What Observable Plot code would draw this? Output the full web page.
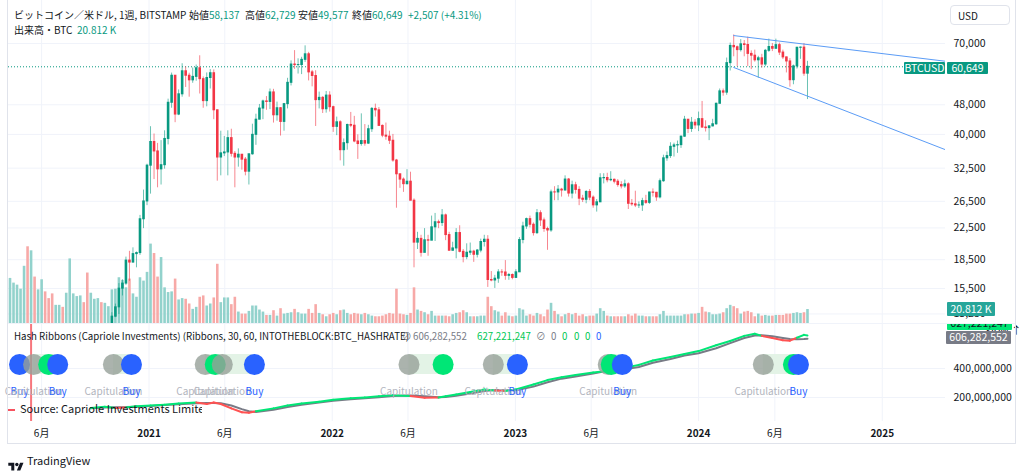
<!DOCTYPE html>
<html lang="ja"><head><meta charset="utf-8"><title>BTCUSD weekly</title>
<script src="https://cdn.jsdelivr.net/npm/d3@7"></script>
<script src="https://cdn.jsdelivr.net/npm/@observablehq/plot@0.6"></script>
<style>
html,body{margin:0;padding:0;background:#fff;}
#wrap{position:relative;width:1024px;height:473px;overflow:hidden;background:#fff;font-family:"Noto Sans CJK JP","Noto Sans",sans-serif;color:#131722;}
.layer{position:absolute;left:0;}
.layer svg{display:block;}
.t{position:absolute;white-space:nowrap;font-size:10px;line-height:12px;transform:translateY(-50%);}
.box{position:absolute;font-size:10.5px;line-height:1;display:flex;align-items:center;justify-content:center;border-radius:1px;white-space:nowrap;}
.ln{position:absolute;background:#e0e3eb;}
</style></head>
<body><div id="wrap"></div>
<script>
// ---------- DATA ----------
const weekStart = "2020-03-30";           // first weekly bar (Monday)
const firstOpen = 5880;
const closes = [
6780,6900,7120,7700,8900,8730,9380,8720,9450,9670,
9340,9300,9010,9070,9240,9160,9700,11060,11680,11910,
11950,11700,10250,10330,11090,11100,10700,11370,11500,13030,
13800,15480,15970,18400,18180,19150,19270,23730,26480,33000,
38180,36020,32260,33100,38900,48600,57400,45200,51200,59000,
57400,55800,57000,60100,56200,49100,56600,58300,46400,34700,
35600,35800,39100,35500,34700,35300,34250,31800,35400,39900,
43800,46900,49000,48850,51800,45000,47000,43200,48200,54950,
61500,61300,61300,63300,65500,58600,57300,49400,50100,46700,
50800,47300,41900,43100,36300,37900,42400,42200,38300,37700,
38400,37800,41300,46800,46400,42150,39700,39450,38470,34060,
31300,30290,29450,29900,26600,20550,21030,19300,20850,20800,
22580,23300,23180,24300,21530,19550,19830,21800,19420,18800,
19310,19440,19070,19570,20630,20920,16330,16280,16460,17110,
17100,16750,16840,16540,17120,20880,22700,23750,22940,21790,
24630,23560,22350,22150,28000,27990,28470,28330,30300,27800,
29250,28430,26930,26750,28070,27110,25850,26340,30540,30590,
30170,30250,29900,29290,29050,29420,26100,26010,25830,25840,
26530,26250,27980,27930,27150,29990,34530,35010,37060,37390,
37450,39450,43790,41370,42990,42280,43950,41730,41580,42030,
42580,48300,52140,51730,62030,68960,68390,67210,69650,69360,
65660,64940,63120,63900,61500,66920,68520,67760,69300,66200,
64260,62680,55850,60800,68180,68250,58137,60649];
const highs = [
7200,7470,7290,7780,9470,10070,9950,9850,9600,10400,
9990,9600,9800,9300,9480,9340,9730,12100,12000,12100,
12480,12050,12090,10600,11100,11180,11100,11500,11720,13350,
14080,15970,16350,18800,19480,19900,19400,24300,28400,33300,
41950,40100,37850,38500,40900,49700,58350,57500,52600,61800,
60600,58300,60200,61300,64900,57000,58400,59600,59500,46500,
40800,39500,40900,41300,36000,36600,35100,34700,35400,42600,
45300,48100,49400,50500,52900,52800,48800,47200,48400,56500,
62900,67000,63700,64300,69000,66300,59300,59200,51900,50500,
52100,52000,47600,44500,43500,38900,42600,45800,44700,39900,
45400,42500,42300,47200,48200,47200,42400,42900,40800,40000,
34300,31300,30600,32200,31700,26900,21900,21500,22400,21500,
24200,24600,23600,25200,24500,21900,20600,22400,22800,19700,
20400,20500,19600,19700,21000,21500,21450,17200,16800,17400,
17400,18400,17000,16950,17400,21200,23300,23900,24200,23200,
25200,25000,23900,22600,28400,29000,29200,28700,31000,30500,
30000,29800,29000,27500,28300,28500,27400,26800,31400,31400,
31500,31800,30400,30300,29900,30200,29700,26800,28200,26400,
27000,27500,28000,28600,28000,30400,35200,35900,38000,37900,
38400,39600,44700,43400,44400,43800,45900,49000,43500,42200,
43900,48500,52900,52900,64000,70200,73800,68900,71700,71300,
72800,66900,67200,64700,65500,67500,71900,70000,71900,70200,
67200,64400,63800,61300,68400,68500,70000,62729];
const lows = [
5860,6770,6470,6800,7630,8100,8200,8700,8620,9250,
9100,8950,8850,8900,9050,9000,9130,9700,10950,11150,
11350,11100,9900,9880,10240,10140,10400,10520,11200,11400,
12950,13200,14800,15800,16200,18100,17600,19000,22400,25800,
27700,30300,28800,29300,32300,37500,47000,43000,44900,50300,
53400,50300,54800,55500,51300,47000,47400,52900,43800,30000,
31000,34900,31000,34800,28800,32700,32100,31000,29300,35200,
37400,43800,43800,46400,46600,42900,43400,39600,40800,46800,
53900,59700,58000,57800,62300,55600,53600,42000,46800,45500,
45600,45900,40500,39700,34000,32900,36300,41700,38000,34300,
37200,37200,37600,40500,44500,42100,39200,38600,37600,33700,
25400,28700,28000,29300,26600,17600,19700,18800,19300,18900,
20800,20700,22400,22700,20800,19500,19500,18600,19300,18150,
18500,19000,18200,18700,19300,20000,15600,16150,15500,16000,
16700,16300,16300,16350,16500,17100,20400,22300,22500,21400,
21600,22700,21900,19600,21900,26600,26600,27200,28200,27200,
26900,27700,25800,26300,26100,26600,25400,24800,26300,29500,
29700,29900,29500,28900,28600,28700,25200,25700,25500,25350,
24900,26000,26000,27200,26500,26900,29800,33900,34500,34800,
35600,36700,39300,40200,40500,41300,40700,41500,40600,38500,
41900,42300,48300,50600,50900,59100,64500,60700,66400,64500,
60700,59600,62400,56500,60200,60700,66300,66600,67600,65000,
63400,58400,53500,54300,59800,63500,57200,49577];
const volumesK = [
67,60,57,51,85,114,108,69,50,65,
47,37,44,27,27,24,45,96,44,40,
41,31,75,45,36,37,31,30,25,50,
51,68,64,53,66,44,39,68,63,76,
118,104,69,98,53,46,47,66,35,37,
36,29,21,24,39,41,26,29,38,88,
31,38,38,28,39,17,14,14,18,26,
26,20,17,12,12,19,11,22,14,15,
16,21,16,14,14,21,15,28,15,13,
10,13,15,13,19,20,15,13,15,14,
13,15,13,11,10,10,11,13,15,14,
51,14,13,12,15,53,20,18,16,13,
18,11,11,11,11,10,13,15,16,19,
16,10,10,10,11,11,39,25,19,17,
11,16,11,10,11,22,20,11,13,11,
15,13,10,20,30,18,13,10,13,15,
13,15,11,13,10,11,11,14,22,18,
11,10,10,10,10,10,13,11,14,11,
11,10,10,10,10,13,18,11,11,11,
11,11,13,13,14,14,15,24,17,16,
13,13,14,16,22,27,25,22,14,17,
18,16,10,14,11,12,11,11,12,12,
12,14,14,15,16,15,16,20.812];
const priceTicks = [70000, 48000, 40000, 32500, 26500, 22500, 18500, 15500, 13250];
const lastPrice = 60649;
const trendUpperDates = ["2024-03-11", "2025-05-07"];
const trendUpperPrices = [73500, 62750];
const trendLowerDates = ["2024-03-11", "2025-05-07"];
const trendLowerPrices = [60400, 36400];
// Hash Ribbons (TH/s, millions)
const hashDates = ["2020-09-07","2020-10-05","2020-10-26","2020-11-16","2020-12-07",
"2021-01-04","2021-02-01","2021-03-01","2021-04-05","2021-04-26","2021-05-10","2021-05-24","2021-06-14","2021-07-05","2021-07-19","2021-08-02","2021-09-06","2021-10-04","2021-11-01","2021-12-06",
"2022-01-03","2022-02-07","2022-03-07","2022-04-04","2022-05-02","2022-06-06","2022-07-04","2022-08-01","2022-08-15","2022-09-05","2022-10-03","2022-10-31","2022-11-21","2022-12-12",
"2023-01-02","2023-02-06","2023-03-06","2023-04-03","2023-05-01","2023-06-05","2023-07-03","2023-07-17","2023-08-07","2023-09-04","2023-10-02","2023-11-06","2023-12-04",
"2024-01-01","2024-02-05","2024-03-04","2024-04-01","2024-04-22","2024-05-06","2024-05-27","2024-06-17","2024-07-01","2024-07-15","2024-07-29","2024-08-05"];
const hashFastM = [128,136,128,131,140,
145,150,158,165,155,165,155,125,98,95,105,125,145,158,170,
185,195,200,208,215,210,198,200,208,220,238,255,248,245,
255,290,320,340,355,372,383,392,405,425,455,480,500,
520,560,590,625,640,625,610,595,592,612,632,627];
const hashSlowM = [125,131,133,134,137,
142,148,153,160,162,162,160,145,120,105,100,115,135,150,165,
178,188,195,202,210,214,208,202,204,212,228,245,252,250,
250,275,305,330,345,365,385,386,395,410,440,465,490,
505,540,575,610,628,630,622,610,603,602,604,606];
const hashTicks = [200000000, 400000000];
const halvingDates = ["2020-05-11"];
const signalDates = ["2020-04-18","2020-05-16","2020-06-15","2020-07-03","2020-10-22","2020-11-27","2021-04-23","2021-05-13","2021-05-27","2021-07-30","2022-06-03","2022-08-10","2022-11-18","2023-01-05","2023-07-05","2023-07-11","2023-08-02","2024-05-09","2024-07-08","2024-07-18"];
const signalKinds = ["buy","cap","green","buy","cap","buy","cap","green","cap","buy","cap","green","cap","buy","cap","green","buy","cap","green","buy"];
const bandStarts = ["2020-05-16","2020-10-22","2021-04-23","2022-06-03","2022-11-18","2023-07-05","2024-05-09"];
const bandEnds   = ["2020-07-03","2020-11-27","2021-07-30","2022-08-10","2023-01-05","2023-08-02","2024-07-18"];
const juneTicks = ["2020-06-01","2021-06-01","2022-06-01","2023-06-01","2024-06-01"];
const yearTicks = ["2021-01-01","2022-01-01","2023-01-01","2024-01-01","2025-01-01"];
const xDomain = ["2020-03-27", "2025-05-07"];
const legendOHLC = ["58,137", "62,729", "49,577", "60,649"];
const legendChange = "+2,507 (+4.31%)";
const volumeLegend = "20.812 K";
const hashLegendValues = ["606,282,552", "627,221,247"];

// ---------- BUILD ----------
const wrap = document.getElementById("wrap");
const FONT = '"Noto Sans CJK JP","Noto Sans",sans-serif';
const W = 1024, ML = 8, MR = 79;
const D = s => new Date(s + "T00:00:00Z");
const DAY = 864e5;
const t0 = D(weekStart);
const bars = closes.map((c, i) => {
  const o = i === 0 ? firstOpen : closes[i - 1];
  return {date: new Date(+t0 + i * 7 * DAY), open: o, close: c, high: highs[i], low: lows[i], vol: volumesK[i], up: c >= o};
});
const UP = "#089981", DOWN = "#f23645";
const Xs = {type: "utc", domain: xDomain.map(D), axis: null};
const monthTicks = [...juneTicks, ...yearTicks].map(D);
const base = (h, extra = {}) => ({
  width: W, height: h, marginLeft: ML, marginRight: MR, marginTop: 0, marginBottom: 0,
  x: Xs, color: {type: "identity"},
  style: {background: "transparent", fontFamily: FONT, color: "#131722", overflow: "hidden"},
  ...extra
});
function place(svg, top) {
  const d = document.createElement("div");
  d.className = "layer"; d.style.top = top + "px";
  d.appendChild(svg); wrap.appendChild(d);
}
const yPrice = {type: "log", domain: [12493, 91207], axis: null};

// grid layer
place(Plot.plot(base(323, {y: yPrice, marks: [
  Plot.ruleX(monthTicks, {stroke: "#f0f3fa"}),
  Plot.ruleY(priceTicks, {stroke: "#f0f3fa"})
]})), 0);

// volume layer
place(Plot.plot(base(323, {y: {domain: [0, 480], axis: null}, marks: [
  Plot.ruleX(bars, {x: "date", y1: 0, y2: "vol", stroke: d => d.up ? "#92d2cc" : "#f7a9a7", strokeWidth: 2.6})
]})), 0);

// price layer
const trendU = trendUpperDates.map((d, i) => ({date: D(d), price: trendUpperPrices[i]}));
const trendL = trendLowerDates.map((d, i) => ({date: D(d), price: trendLowerPrices[i]}));
place(Plot.plot(base(323, {y: yPrice, marks: [
  Plot.ruleY([lastPrice], {stroke: "#089981", strokeDasharray: "1 2", strokeWidth: 1}),
  Plot.ruleX(bars, {x: "date", y1: "low", y2: "high", stroke: d => d.up ? UP : DOWN, strokeOpacity: 0.6, strokeWidth: 1, clip: true}),
  Plot.ruleX(bars, {x: "date", y1: d => Math.max(d.open, d.close), y2: d => Math.min(d.open, d.close),
    stroke: d => d.up ? UP : DOWN, strokeWidth: 2.6, insetTop: -0.5, insetBottom: -0.5, clip: true}),
  Plot.line(trendU, {x: "date", y: "price", stroke: "#5b9cf6", strokeWidth: 1, clip: true}),
  Plot.line(trendL, {x: "date", y: "price", stroke: "#5b9cf6", strokeWidth: 1, clip: true}),
  Plot.axisY(priceTicks, {anchor: "right", tickSize: 0, tickPadding: 8, tickFormat: d3.format(","), fontSize: 10.5})
]})), 0);

// hash ribbons lines
const hash = hashDates.map((d, i) => ({date: D(d), fast: hashFastM[i] * 1e6, slow: hashSlowM[i] * 1e6}));
const segs = hash.slice(1).map((b, i) => {
  const a = hash[i];
  return {a, b, red: (a.fast + b.fast) < (a.slow + b.slow)};
});
place(Plot.plot(base(98, {y: {domain: [34.48e6, 710.34e6], axis: null}, marks: [
  Plot.ruleX(monthTicks, {stroke: "#f0f3fa"}),
  Plot.ruleY(hashTicks, {stroke: "#f0f3fa"}),
  Plot.axisY(hashTicks, {anchor: "right", tickSize: 0, tickPadding: 8, tickFormat: d3.format(","), fontSize: 10.5}),
  Plot.ruleX(halvingDates.map(D), {stroke: "#f7767c", strokeWidth: 2}),
  Plot.line(hash, {x: "date", y: "slow", stroke: "#787b86", strokeWidth: 2}),
  Plot.link(segs, {x1: d => d.a.date, y1: d => d.a.fast, x2: d => d.b.date, y2: d => d.b.fast,
    stroke: d => d.red ? "#ff5252" : "#00e676", strokeWidth: 2, strokeLinecap: "round"})
]})), 323);

// signals (circles + labels)
const signals = signalDates.map((d, i) => ({date: D(d), kind: signalKinds[i]}));
const bands = bandStarts.map((d, i) => ({start: D(d), end: D(bandEnds[i])}));
const sigFill = {cap: "rgba(150,160,153,0.8)", green: "#00e676", buy: "#2962ff"};
place(Plot.plot(base(60, {marginBottom: 20, marks: [
  Plot.rect(bands, {x1: "start", x2: "end", fill: "#e3f3e6", insetTop: 10, insetBottom: 10}),
  Plot.dot(signals, {x: "date", r: 10.5, fill: d => sigFill[d.kind], frameAnchor: "middle"}),
  Plot.text(signals.filter(d => d.kind !== "green"), {x: "date", text: d => d.kind === "cap" ? "Capitulation" : "Buy",
    fill: d => d.kind === "cap" ? "#b2b5be" : "#2962ff", frameAnchor: "middle", dy: 27, fontSize: 10})
]})), 344);

// time axis
place(Plot.plot(base(24, {marginBottom: 24, marks: [
  Plot.axisX({ticks: juneTicks.map(D), anchor: "bottom", tickSize: 0, tickPadding: 8, tickFormat: () => "6月", fontSize: 10}),
  Plot.axisX({ticks: yearTicks.map(D), anchor: "bottom", tickSize: 0, tickPadding: 8, tickFormat: d => String(d.getUTCFullYear()), fontSize: 10, fontWeight: "bold"})
]})), 421);

// ---------- overlays ----------
function txt(x, y, html, size = 10, color = "#131722", extra = "") {
  const d = document.createElement("div");
  d.className = "t";
  d.style.cssText = `left:${x}px;top:${y}px;font-size:${size}px;color:${color};${extra}`;
  d.innerHTML = html; wrap.appendChild(d); return d;
}
function box(x, y, w, h, bg, fg, text, parent = wrap) {
  const d = document.createElement("div");
  d.className = "box";
  d.style.cssText = `left:${x}px;top:${y}px;width:${w}px;height:${h}px;background:${bg};color:${fg};`;
  d.textContent = text; parent.appendChild(d); return d;
}
function line(x, y, w, h, c = "#e0e3eb") {
  const d = document.createElement("div"); d.className = "ln";
  d.style.cssText = `left:${x}px;top:${y}px;width:${w}px;height:${h}px;background:${c};`;
  wrap.appendChild(d);
}
const G = s => `<span style="color:#089981">${s}</span>`;
txt(14, 15, "ビットコイン／米ドル, 1週, BITSTAMP");
txt(189, 15, "始値" + G(legendOHLC[0]));
txt(245, 15, "高値" + G(legendOHLC[1]));
txt(298, 15, "安値" + G(legendOHLC[2]));
txt(352, 15, "終値" + G(legendOHLC[3]));
txt(408, 15, G(legendChange));
txt(14, 30, "出来高・BTC");
txt(77, 30, G(volumeLegend));

txt(14, 336, "Hash Ribbons (Capriole Investments) (Ribbons, 30, 60, INTOTHEBLOCK:BTC_HASHRATE)", 9.7);
txt(402, 336, "⊘", 9.7, "#787b86");
txt(413, 336, hashLegendValues[0], 9.7, "#787b86");
txt(477, 336, hashLegendValues[1], 9.7, "#00c853");
txt(536, 336, "⊘", 9.7, "#787b86");
txt(551, 336, "0", 9.7, "#787b86");
txt(562, 336, "0", 9.7, "#00c853");
txt(574, 336, "0", 9.7, "#00c853");
txt(585, 336, "0", 9.7, "#00c853");
txt(596, 336, "0", 9.7, "#2962ff");

// source line (partially cut)
line(8, 409, 7, 2, "#f7525f");
const src = document.createElement("div");
src.style.cssText = "position:absolute;left:20px;top:403px;width:182px;height:12px;overflow:hidden;";
const srcIn = document.createElement("div");
srcIn.style.cssText = "position:absolute;left:0;top:-2px;font-size:11px;line-height:15px;white-space:nowrap;color:#131722;";
srcIn.textContent = "Source: Capriole Investments Limited";
src.appendChild(srcIn); wrap.appendChild(src);

// right-scale labels
box(904, 62, 41, 12, "#089981", "#fff", "BTCUSD");
box(947, 62, 41, 12, "#089981", "#fff", d3.format(",")(lastPrice));
box(947, 302, 48, 14, "#26a69a", "#fff", volumeLegend);
const clipG = document.createElement("div");
clipG.style.cssText = "position:absolute;left:947px;top:323px;width:65px;height:7px;overflow:hidden;";
wrap.appendChild(clipG);
box(0, -6, 65, 13, "#00e676", "#131722", hashLegendValues[1], clipG);
box(946, 331, 65, 13, "#787b86", "#fff", hashLegendValues[0]);

// USD button
const usd = document.createElement("div");
usd.style.cssText = "position:absolute;left:950px;top:5px;width:60px;height:20px;border:1px solid #e0e3eb;border-radius:4px;font-size:10px;line-height:20px;padding-left:7px;box-sizing:border-box;color:#131722;";
usd.textContent = "USD"; wrap.appendChild(usd);

// frame + pane separator
line(7, 0, 1, 444);
line(1015, 0, 1, 444);
line(7, 443, 1009, 1);
line(8, 323, 1007, 1, "#f0f3fa");

// TradingView mark
const logo = document.createElement("div");
logo.style.cssText = "position:absolute;left:8px;top:454px;";
logo.innerHTML = '<svg width="16" height="12" viewBox="0 0 36 28"><path d="M14 22H7V11H0V4h14z M28 22h-8l7.5-18h8z" fill="#131722"/><circle cx="20" cy="8" r="4" fill="#131722"/></svg>';
wrap.appendChild(logo);
txt(27, 460, "TradingView", 11);
</script>
</body></html>
